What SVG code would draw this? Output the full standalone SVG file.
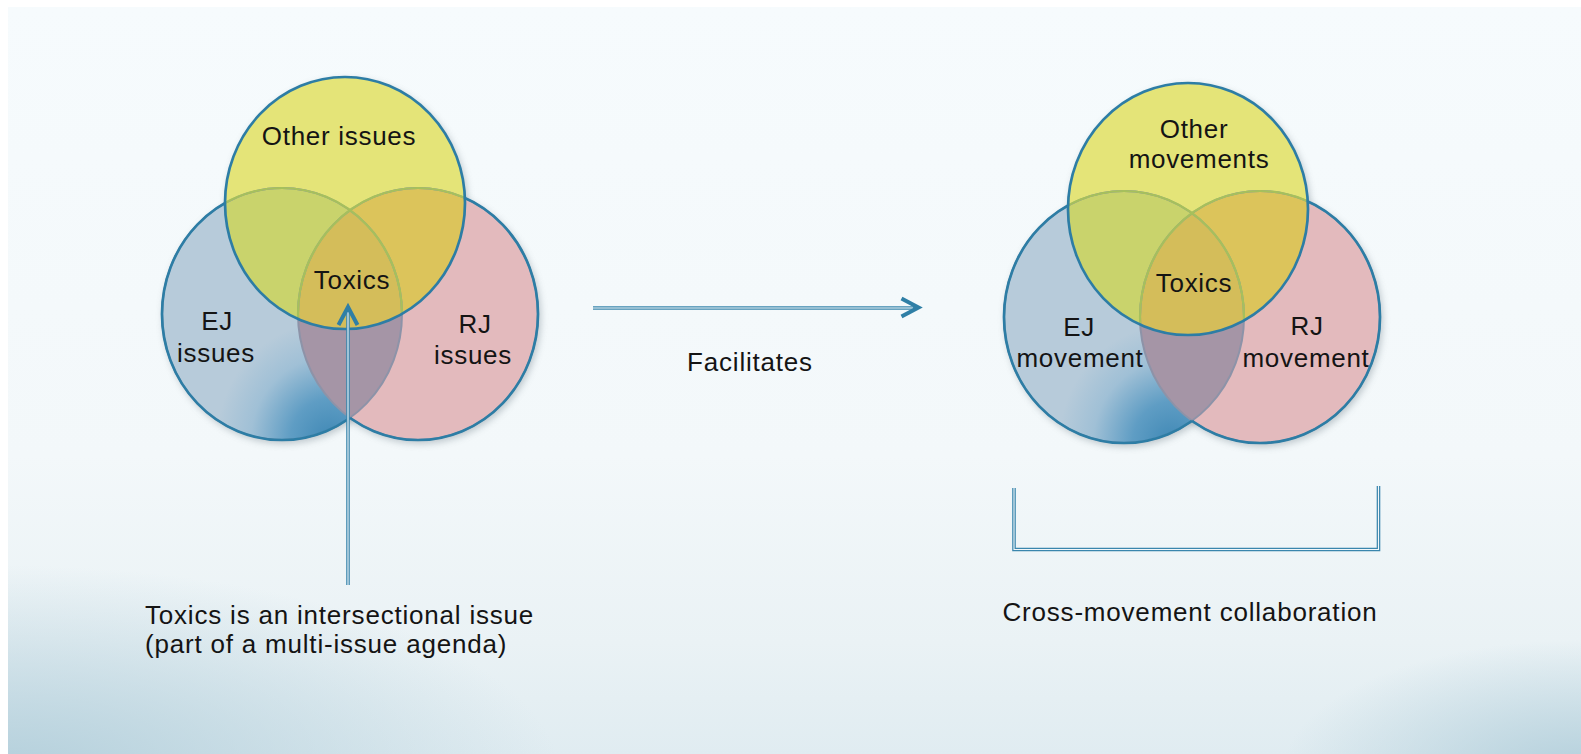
<svg xmlns="http://www.w3.org/2000/svg" width="1581" height="754" viewBox="0 0 1581 754">
<style>
  text { font-family: "Liberation Sans", Arial, sans-serif; font-size: 26px; fill: #141414; letter-spacing: 0.7px; }
  .mid { text-anchor: middle; }
  .blue { fill: #b7cbda; }
  .bgrad { fill: url(#blueShade); }
  .pink { fill: #e3babd; }
  .bp { fill: #a595a6; }
  .yel { fill: #e4e478; }
  .yb { fill: #c9d36c; }
  .yp { fill: #dcc45b; }
  .ybp { fill: #d4bd5a; }
  .edge { fill: none; stroke: #2d7da5; stroke-width: 2.7; }
  .inner { fill: none; stroke: #8d93a8; stroke-width: 2; }
  .ingreen { fill: none; stroke: #a6c05c; stroke-width: 2.2; }
  .shadow { fill: #75838d; opacity: 0.42; filter: url(#blur); }
  .dbl-o { fill: none; stroke: #3a86ad; stroke-width: 3.6; }
  .dbl-i { fill: none; stroke: #f2f7fa; stroke-width: 1.1; }
  .chev { fill: none; stroke: #2f7fa6; stroke-width: 4; stroke-linejoin: miter; stroke-linecap: butt; }
</style>
<defs>
  <linearGradient id="bgV" x1="0" y1="0" x2="0" y2="1">
    <stop offset="0" stop-color="#f6fbfd"/>
    <stop offset="0.6" stop-color="#f3f8fa"/>
    <stop offset="0.85" stop-color="#eaf2f5"/>
    <stop offset="1" stop-color="#e0ecf1"/>
  </linearGradient>
  <radialGradient id="cornerGlow" cx="0.5" cy="0.5" r="0.5">
    <stop offset="0" stop-color="#b3cfdb" stop-opacity="1"/>
    <stop offset="1" stop-color="#b3cfdb" stop-opacity="0"/>
  </radialGradient>
  <radialGradient id="blueShade" cx="0.7" cy="1.0" r="0.47">
    <stop offset="0" stop-color="#3f88b5"/>
    <stop offset="0.35" stop-color="#5f9dc4"/>
    <stop offset="0.7" stop-color="#a0c0d6"/>
    <stop offset="1" stop-color="#b7cbda"/>
  </radialGradient>
  <filter id="blur" x="-20%" y="-20%" width="140%" height="140%">
    <feGaussianBlur stdDeviation="3.5"/>
  </filter>
  <!-- left venn shapes -->
  <clipPath id="cLB"><ellipse cx="282" cy="314" rx="120" ry="126"/></clipPath>
  <clipPath id="cLP"><ellipse cx="418" cy="314" rx="120" ry="126"/></clipPath>
  <clipPath id="cLY"><ellipse cx="345" cy="203" rx="120" ry="126"/></clipPath>
  <mask id="mLB" maskUnits="userSpaceOnUse" x="0" y="0" width="1581" height="754">
    <rect width="1581" height="754" fill="#fff"/>
    <ellipse cx="418" cy="314" rx="120" ry="126" fill="#000"/>
    <ellipse cx="345" cy="203" rx="120" ry="126" fill="#000"/>
  </mask>
  <mask id="mLP" maskUnits="userSpaceOnUse" x="0" y="0" width="1581" height="754">
    <rect width="1581" height="754" fill="#fff"/>
    <ellipse cx="282" cy="314" rx="120" ry="126" fill="#000"/>
    <ellipse cx="345" cy="203" rx="120" ry="126" fill="#000"/>
  </mask>
  <!-- right venn shapes -->
  <clipPath id="cRB"><ellipse cx="1124" cy="317" rx="120" ry="126"/></clipPath>
  <clipPath id="cRP"><ellipse cx="1260" cy="317" rx="120" ry="126"/></clipPath>
  <clipPath id="cRY"><ellipse cx="1188" cy="209" rx="120" ry="126"/></clipPath>
  <mask id="mRB" maskUnits="userSpaceOnUse" x="0" y="0" width="1581" height="754">
    <rect width="1581" height="754" fill="#fff"/>
    <ellipse cx="1260" cy="317" rx="120" ry="126" fill="#000"/>
    <ellipse cx="1188" cy="209" rx="120" ry="126" fill="#000"/>
  </mask>
  <mask id="mRP" maskUnits="userSpaceOnUse" x="0" y="0" width="1581" height="754">
    <rect width="1581" height="754" fill="#fff"/>
    <ellipse cx="1124" cy="317" rx="120" ry="126" fill="#000"/>
    <ellipse cx="1188" cy="209" rx="120" ry="126" fill="#000"/>
  </mask>
</defs>

<!-- background -->
<g id="background">
  <rect x="0" y="0" width="1581" height="754" fill="#ffffff"/>
  <rect x="8" y="7" width="1573" height="747" fill="url(#bgV)"/>
  <svg x="8" y="7" width="1573" height="747" viewBox="8 7 1573 747">
    <ellipse cx="0" cy="775" rx="560" ry="210" fill="url(#cornerGlow)"/>
    <ellipse cx="1581" cy="775" rx="300" ry="135" fill="url(#cornerGlow)"/>
  </svg>
</g>

<!-- LEFT VENN -->
<g id="venn-left">
  <g class="shadows">
    <ellipse class="shadow" cx="284" cy="317" rx="121" ry="127"/>
    <ellipse class="shadow" cx="420" cy="317" rx="121" ry="127"/>
    <ellipse class="shadow" cx="347" cy="206" rx="121" ry="127"/>
  </g>
  <g id="left-ej">
    <ellipse class="blue" cx="282" cy="314" rx="120" ry="126"/>
    <ellipse class="bgrad" cx="282" cy="314" rx="120" ry="126"/>
  </g>
  <g id="left-rj">
    <ellipse class="pink" cx="418" cy="314" rx="120" ry="126"/>
    <ellipse class="bp" cx="418" cy="314" rx="120" ry="126" clip-path="url(#cLB)"/>
  </g>
  <g id="left-other">
    <ellipse class="yel" cx="345" cy="203" rx="120" ry="126"/>
    <ellipse class="yb" cx="345" cy="203" rx="120" ry="126" clip-path="url(#cLB)"/>
    <ellipse class="yp" cx="345" cy="203" rx="120" ry="126" clip-path="url(#cLP)"/>
    <g clip-path="url(#cLB)">
      <ellipse class="ybp" cx="345" cy="203" rx="120" ry="126" clip-path="url(#cLP)"/>
    </g>
  </g>
  <g class="outlines">
    <ellipse class="inner" cx="282" cy="314" rx="120" ry="126"/>
    <ellipse class="inner" cx="418" cy="314" rx="120" ry="126"/>
    <ellipse class="edge" cx="282" cy="314" rx="120" ry="126" mask="url(#mLB)"/>
    <ellipse class="edge" cx="418" cy="314" rx="120" ry="126" mask="url(#mLP)"/>
    <g clip-path="url(#cLY)">
      <ellipse class="ingreen" cx="282" cy="314" rx="120" ry="126"/>
      <ellipse class="ingreen" cx="418" cy="314" rx="120" ry="126"/>
    </g>
    <ellipse class="edge" cx="345" cy="203" rx="120" ry="126"/>
  </g>
  <g id="left-labels">
    <text class="mid" x="339" y="145">Other issues</text>
    <text class="mid" x="217" y="330">EJ</text>
    <text class="mid" x="216" y="362">issues</text>
    <text class="mid" x="475" y="333">RJ</text>
    <text class="mid" x="473" y="364">issues</text>
  </g>
</g>

<!-- RIGHT VENN -->
<g id="venn-right">
  <g class="shadows">
    <ellipse class="shadow" cx="1126" cy="320" rx="121" ry="127"/>
    <ellipse class="shadow" cx="1262" cy="320" rx="121" ry="127"/>
    <ellipse class="shadow" cx="1190" cy="212" rx="121" ry="127"/>
  </g>
  <g id="right-ej">
    <ellipse class="blue" cx="1124" cy="317" rx="120" ry="126"/>
    <ellipse class="bgrad" cx="1124" cy="317" rx="120" ry="126"/>
  </g>
  <g id="right-rj">
    <ellipse class="pink" cx="1260" cy="317" rx="120" ry="126"/>
    <ellipse class="bp" cx="1260" cy="317" rx="120" ry="126" clip-path="url(#cRB)"/>
  </g>
  <g id="right-other">
    <ellipse class="yel" cx="1188" cy="209" rx="120" ry="126"/>
    <ellipse class="yb" cx="1188" cy="209" rx="120" ry="126" clip-path="url(#cRB)"/>
    <ellipse class="yp" cx="1188" cy="209" rx="120" ry="126" clip-path="url(#cRP)"/>
    <g clip-path="url(#cRB)">
      <ellipse class="ybp" cx="1188" cy="209" rx="120" ry="126" clip-path="url(#cRP)"/>
    </g>
  </g>
  <g class="outlines">
    <ellipse class="inner" cx="1124" cy="317" rx="120" ry="126"/>
    <ellipse class="inner" cx="1260" cy="317" rx="120" ry="126"/>
    <ellipse class="edge" cx="1124" cy="317" rx="120" ry="126" mask="url(#mRB)"/>
    <ellipse class="edge" cx="1260" cy="317" rx="120" ry="126" mask="url(#mRP)"/>
    <g clip-path="url(#cRY)">
      <ellipse class="ingreen" cx="1124" cy="317" rx="120" ry="126"/>
      <ellipse class="ingreen" cx="1260" cy="317" rx="120" ry="126"/>
    </g>
    <ellipse class="edge" cx="1188" cy="209" rx="120" ry="126"/>
  </g>
  <g id="right-labels">
    <text class="mid" x="1194" y="138">Other</text>
    <text class="mid" x="1199" y="168">movements</text>
    <text class="mid" x="1079" y="336">EJ</text>
    <text class="mid" x="1080" y="367">movement</text>
    <text class="mid" x="1307" y="335">RJ</text>
    <text class="mid" x="1306" y="367">movement</text>
  </g>
</g>

<!-- connectors -->
<g id="connectors">
  <g id="arrow-facilitates">
    <path class="dbl-o" d="M593,308 H915"/>
    <path class="dbl-i" d="M593,308 H913"/>
    <polyline class="chev" points="901.5,298.5 918.5,307.5 901.5,316.5"/>
  </g>
  <g id="arrow-toxics">
    <path class="dbl-o" d="M348,585 V310"/>
    <path class="dbl-i" d="M348,585 V312"/>
    <polyline class="chev" points="338.5,325 348,307 357.5,325"/>
  </g>
  <g id="bracket-collab">
    <path class="dbl-o" d="M1014,488 V549.5 H1378.5 V486"/>
    <path class="dbl-i" d="M1014,488 V549.5 H1378.5 V486"/>
  </g>
</g>

<!-- Toxics labels (center nodes) -->
<g id="left-toxics">
  <text class="mid" x="352" y="289">Toxics</text>
</g>
<g id="right-toxics">
  <text class="mid" x="1194" y="292">Toxics</text>
</g>

<!-- free labels -->
<g id="label-facilitates">
  <text class="mid" x="750" y="371" style="letter-spacing:0.8px">Facilitates</text>
</g>
<g id="label-intersectional">
  <text x="145" y="624" style="letter-spacing:0.8px">Toxics is an intersectional issue</text>
  <text x="145" y="653" style="letter-spacing:0.8px">(part of a multi-issue agenda)</text>
</g>
<g id="label-collab">
  <text class="mid" x="1190" y="621" style="letter-spacing:0.8px">Cross-movement collaboration</text>
</g>
</svg>
